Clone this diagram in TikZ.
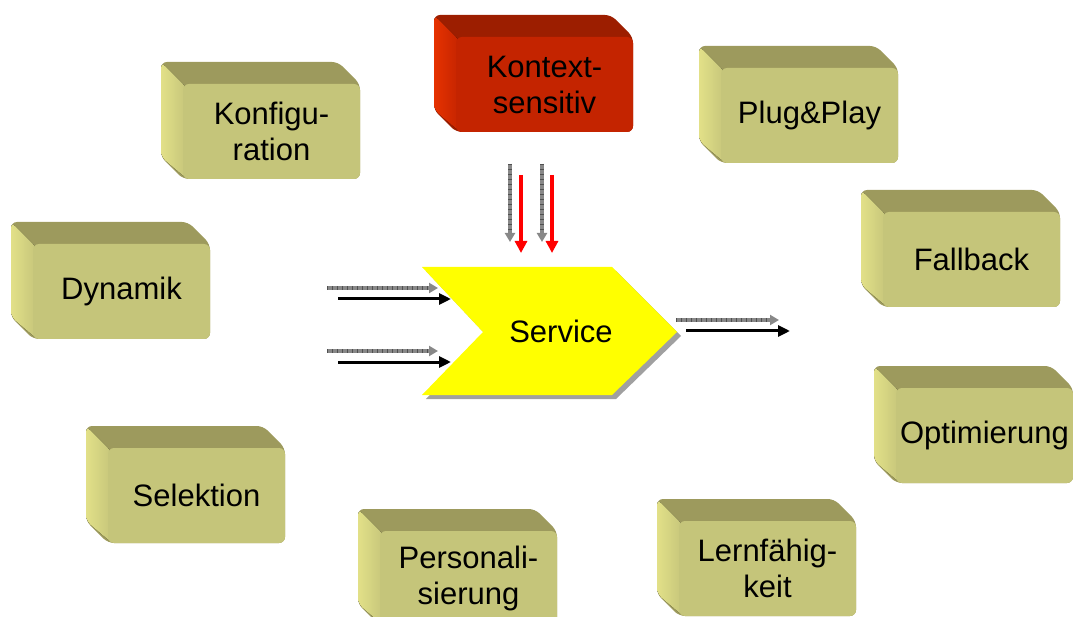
\documentclass[tikz,border=0pt]{standalone}
\usepackage{fontspec}
\setmainfont{Liberation Sans}
\usetikzlibrary{arrows.meta}
\definecolor{olfront}{HTML}{C5C57A}
\definecolor{oltop}{HTML}{9D9A5D}
\definecolor{olleft}{HTML}{E2E088}
\definecolor{rdfront}{HTML}{C42400}
\definecolor{rdtop}{HTML}{9C1E00}
\definecolor{rdleft}{HTML}{E63200}
\definecolor{svyellow}{HTML}{FFFF00}
\definecolor{svshadow}{HTML}{A0A0A0}
\definecolor{garrowc}{HTML}{888888}
\definecolor{gtick}{HTML}{505050}
\definecolor{redarrow}{HTML}{FF0000}
\tikzset{
  fbox/.style={minimum width=177pt, minimum height=95pt, rounded corners=6pt,
    inner sep=0pt, align=center, text=black,
    font=\fontsize{31}{36}\selectfont},
  servicetext/.style={text=black, font=\fontsize{31}{36}\selectfont},
  garrow/.style={draw=garrowc, line width=4pt, -{Triangle[length=9pt,width=10pt]},
    postaction={draw=gtick, line width=4.6pt, dash pattern=on 0.6pt off 4.4pt,
      shorten >=9pt, -}},
  barrow/.style={draw=black, line width=3pt, -{Triangle[length=12pt,width=11pt]}},
  rarrow/.style={draw=redarrow, line width=3.8pt, -{Triangle[length=12pt,width=12pt]}},
}
% #1 name, #2 x, #3 y (front face top-left), #4 colour prefix, #5 text
\newcommand\cubebox[5]{%
  \fill[#4top, rounded corners=6pt] ({#2-22},{#3-22}) -- ({#2+155},{#3-22}) -- ({#2+177},{#3})
     -- ({#2+177},{#3+95}) -- ({#2},{#3+95}) -- ({#2-22},{#3+73}) -- cycle;
  \fill[left color=#4left, right color=#4front, rounded corners=6pt]
     ({#2-22},{#3-22}) -- ({#2+4},{#3+4}) -- ({#2+4},{#3+95}) -- ({#2-22},{#3+73}) -- cycle;
  \node[fbox, fill=#4front] (#1) at ({#2+88.5},{#3+47.5}) {#5};
}
\begin{document}
\begin{tikzpicture}[x=1pt, y=-1pt]
\useasboundingbox (0,0) rectangle (1073,617);
\clip (0,0) rectangle (1073,617);

% boxes
\cubebox{kontext}{456}{37}{rd}{Kontext-\\sensitiv}
\cubebox{konfig}{183}{84}{ol}{Konfigu-\\ration}
\cubebox{plug}{721}{68}{ol}{Plug\&Play}
\cubebox{dynamik}{33}{244}{ol}{Dynamik}
\cubebox{fallback}{883}{212}{ol}{Fallback}
\cubebox{optim}{896}{388}{ol}{Optimierung}
\cubebox{selektion}{108}{448}{ol}{Selektion}
\cubebox{personal}{380}{531}{ol}{Personali-\\sierung}
\cubebox{lern}{679}{521}{ol}{Lernfähig-\\keit}

% service chevron
\fill[svshadow] (426,271) -- (616,271) -- (681,336) -- (616,399) -- (426,399) -- (487,336) -- cycle;
\fill[svyellow] (422,267) -- (612,267) -- (677,332) -- (612,395) -- (422,395) -- (483,332) -- cycle;
\node[servicetext] (service) at (561,331) {Service};

% arrow end points
\coordinate (gin1s) at (327,288);  \coordinate (gin1e) at (438,288);
\coordinate (bin1s) at (338,299);  \coordinate (bin1e) at (451,299);
\coordinate (gin2s) at (327,351);  \coordinate (gin2e) at (438,351);
\coordinate (bin2s) at (338,362);  \coordinate (bin2e) at (451,362);
\coordinate (gouts) at (676,320);  \coordinate (goute) at (779,320);
\coordinate (bouts) at (686,331);  \coordinate (boute) at (790,331);
\coordinate (gd1s) at (510,164);   \coordinate (gd1e) at (510,242);
\coordinate (rd1s) at (521,175);   \coordinate (rd1e) at (521,253);
\coordinate (gd2s) at (542,164);   \coordinate (gd2e) at (542,242);
\coordinate (rd2s) at (552,175);   \coordinate (rd2e) at (552,253);

\draw[garrow] (gin1s) -- (gin1e);
\draw[barrow] (bin1s) -- (bin1e);
\draw[garrow] (gin2s) -- (gin2e);
\draw[barrow] (bin2s) -- (bin2e);
\draw[garrow] (gouts) -- (goute);
\draw[barrow] (bouts) -- (boute);
\draw[garrow] (gd1s) -- (gd1e);
\draw[rarrow] (rd1s) -- (rd1e);
\draw[garrow] (gd2s) -- (gd2e);
\draw[rarrow] (rd2s) -- (rd2e);
\end{tikzpicture}
\end{document}
